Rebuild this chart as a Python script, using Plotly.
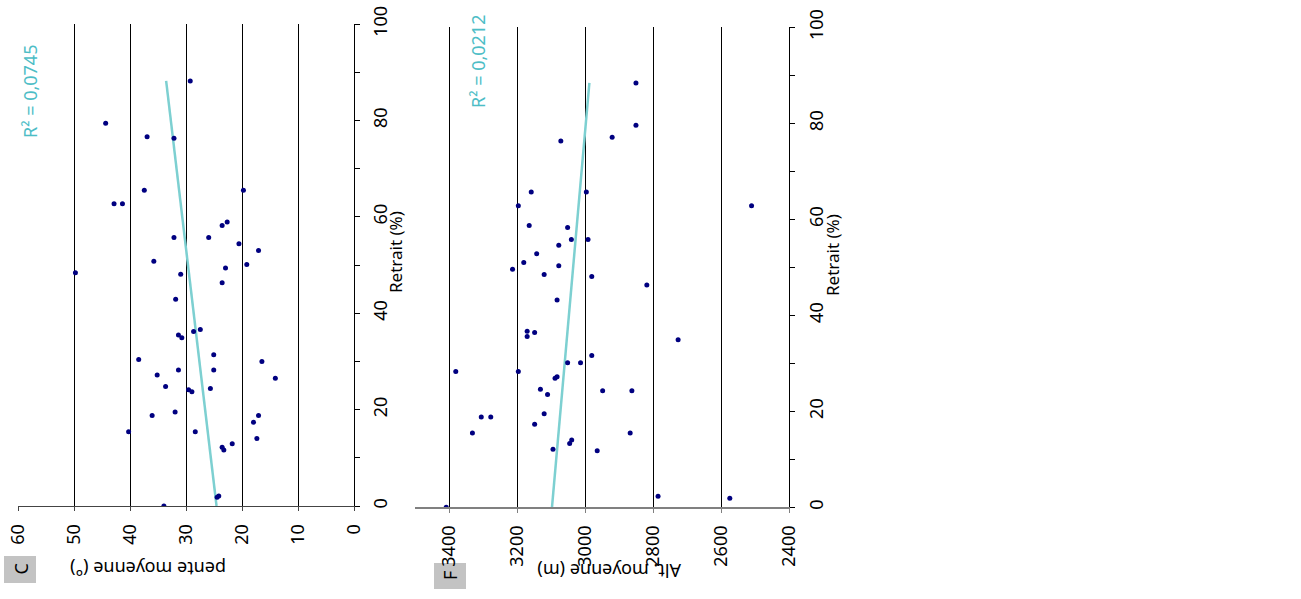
import plotly.graph_objects as go

# ---------------- Data ----------------
# Panel C : Retrait (%) vs pente moyenne (deg)
retrait_C = [79.4, 76.6, 76.3, 65.5, 65.5, 62.7, 62.7, 58.9, 58.2, 55.7,
             55.7, 54.4, 53.0, 50.8, 48.4, 50.1, 49.4, 48.1, 46.3, 42.9,
             35.5, 34.9, 36.2, 36.6, 31.4, 30.0, 30.4, 27.2, 28.2, 28.2,
             26.5, 24.8, 24.1, 23.7, 24.4, 18.8, 19.5, 18.8, 17.4, 15.4,
             15.4, 14.0, 12.9, 12.2, 11.6, 2.1, 1.8, 0.0, 88.2]
pente_C = [44.4, 37.0, 32.2, 37.5, 19.8, 42.9, 41.4, 22.7, 23.6, 32.2,
           26.0, 20.6, 17.1, 35.8, 49.8, 19.2, 23.0, 31.0, 23.6, 31.9,
           31.4, 30.8, 28.7, 27.5, 25.1, 16.5, 38.5, 35.2, 31.4, 25.1,
           14.1, 33.7, 29.6, 29.0, 25.7, 36.1, 32.0, 17.1, 18.0, 40.3,
           28.4, 17.4, 21.8, 23.6, 23.3, 24.2, 24.5, 34.0, 29.3]
trend_C_retrait = [0.0, 88.2]
trend_C_pente = [24.6, 33.6]
r2_C = "R² = 0,0745"

# Panel F : Retrait (%) vs Alt. moyenne (m)
retrait_F = [88.4, 79.6, 77.1, 76.3, 65.7, 65.7, 62.8, 62.8, 58.7, 58.3,
             55.8, 55.8, 54.6, 52.8, 51.0, 50.3, 49.6, 48.5, 48.1, 46.3,
             43.2, 36.7, 35.6, 36.4, 34.9, 31.6, 30.1, 30.1, 28.3, 28.3,
             26.9, 27.2, 24.6, 24.3, 24.3, 23.5, 19.5, 18.8, 18.8, 17.3,
             15.5, 15.5, 14.0, 13.3, 12.1, 11.8, 2.3, 1.9, 0.0]
alt_F = [2851, 2851, 2921, 3072, 3159, 2997, 3197, 2511, 3165, 3052,
         3041, 2992, 3078, 3143, 3181, 3078, 3214, 3121, 2981, 2819,
         3083, 3171, 3171, 3149, 2727, 2981, 3052, 3014, 3381, 3197,
         3089, 3083, 3132, 2949, 2863, 3111, 3121, 3306, 3278, 3149,
         3332, 2868, 3040, 3046, 3095, 2965, 2786, 2575, 3409]
trend_F_retrait = [0.0, 88.4]
trend_F_alt = [3098, 2988]
r2_F = "R² = 0,0212"

retrait_ticks = list(range(0, 101, 10))
retrait_labels = [str(v) if v % 20 == 0 else "" for v in retrait_ticks]
pente_ticks = [0, 10, 20, 30, 40, 50, 60]
alt_ticks = [2400, 2600, 2800, 3000, 3200, 3400]

# ---------------- Style ----------------
W, H = 1301, 599
FONT = "Noto Sans"
DOT = "#000080"
TREND = "#7DD0D1"
R2COL = "#4DBDC6"

def px(x):
    return x / W

def py(y):
    return 1 - y / H

fig = go.Figure()

fig.add_trace(go.Scatter(x=trend_C_pente, y=trend_C_retrait, mode="lines",
                         line=dict(color=TREND, width=2.5),
                         xaxis="x", yaxis="y", showlegend=False))
fig.add_trace(go.Scatter(x=pente_C, y=retrait_C, mode="markers",
                         marker=dict(color=DOT, size=5),
                         xaxis="x", yaxis="y", showlegend=False))
fig.add_trace(go.Scatter(x=trend_F_alt, y=trend_F_retrait, mode="lines",
                         line=dict(color=TREND, width=2.5),
                         xaxis="x2", yaxis="y2", showlegend=False))
fig.add_trace(go.Scatter(x=alt_F, y=retrait_F, mode="markers",
                         marker=dict(color=DOT, size=5),
                         xaxis="x2", yaxis="y2", showlegend=False))

tickfont = dict(family=FONT, size=18, color="black")

fig.update_layout(
    width=W, height=H, autosize=False,
    margin=dict(l=0, r=0, t=0, b=0, pad=0, autoexpand=False),
    paper_bgcolor="white", plot_bgcolor="white",
    font=dict(family=FONT, color="black"),
    showlegend=False,
    xaxis=dict(domain=[px(18.3), px(354.3)], range=[60, 0], anchor="y",
               automargin=False,
               tickvals=pente_ticks, tickangle=-90, tickfont=tickfont,
               ticks="outside", ticklen=4, tickcolor="#444",
               ticklabelstandoff=6,
               showline=True, linecolor="#444", linewidth=1,
               showgrid=True, gridcolor="black", gridwidth=1,
               zeroline=False),
    yaxis=dict(domain=[py(506), py(24)], range=[0, 100], anchor="x",
               automargin=False,
               side="right", tickvals=retrait_ticks, ticktext=retrait_labels,
               tickangle=-90, tickfont=tickfont,
               ticks="outside", ticklen=5, tickcolor="black",
               ticklabelstandoff=5,
               showline=True, linecolor="black", linewidth=1,
               showgrid=False, zeroline=False),
    xaxis2=dict(domain=[px(415.3), px(789.3)], range=[3500, 2400], anchor="y2",
                automargin=False,
                tickvals=alt_ticks, tickangle=-90, tickfont=tickfont,
                ticks="outside", ticklen=4, tickcolor="#808080",
                ticklabelstandoff=5,
                showline=True, linecolor="#808080", linewidth=2,
                showgrid=True, gridcolor="black", gridwidth=1,
                zeroline=False),
    yaxis2=dict(domain=[py(507.3), py(27.3)], range=[0, 100], anchor="x2",
                automargin=False,
                side="right", tickvals=retrait_ticks, ticktext=retrait_labels,
                tickangle=-90, tickfont=tickfont,
                ticks="outside", ticklen=5, tickcolor="black",
                ticklabelstandoff=6,
                showline=True, linecolor="black", linewidth=1,
                showgrid=False, zeroline=False),
)

# panel label boxes
fig.add_shape(type="rect", xref="paper", yref="paper",
              x0=px(4), x1=px(36), y0=py(583), y1=py(556),
              fillcolor="#C3C3C3", line=dict(width=0), layer="below")
fig.add_shape(type="rect", xref="paper", yref="paper",
              x0=px(434), x1=px(466), y0=py(589), y1=py(563),
              fillcolor="#C3C3C3", line=dict(width=0), layer="below")

def ann(text, x, y, angle, size, color="black"):
    fig.add_annotation(text=text, xref="paper", yref="paper",
                       x=px(x), y=py(y), xanchor="center", yanchor="middle",
                       textangle=angle, showarrow=False,
                       font=dict(family=FONT, size=size, color=color))

ann("C", 20, 569.5, -90, 18)
ann("F", 450, 576, -90, 18)
ann("pente moyenne (°)", 148, 569, 180, 18)
ann("Alt. moyenne (m)", 609, 571, 180, 18)
ann("Retrait (%)", 395, 252, -90, 17)
ann("Retrait (%)", 832, 255, -90, 17)
ann(r2_C, 30, 92, -90, 18, R2COL)
ann(r2_F, 478, 62, -90, 18, R2COL)

fig.write_html("out.html", config={"displayModeBar": False},
               post_script="document.body.style.margin='0';"
                           "document.body.style.overflow='hidden';")
